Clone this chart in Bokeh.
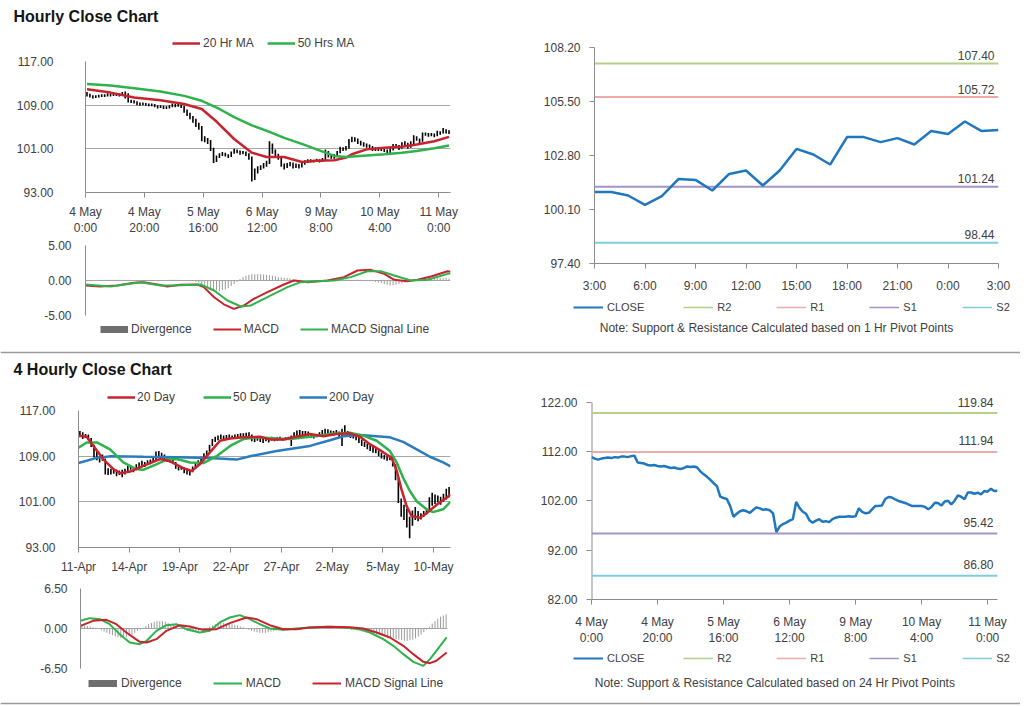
from bokeh.plotting import figure
from bokeh.models import Range1d, FixedTicker, NumeralTickFormatter, Legend, LegendItem, Label
from bokeh.layouts import row, column
from bokeh.embed import file_html
from bokeh.resources import INLINE
from bokeh.core.properties import value

# ---------------- DATA ----------------
# Hourly bars (4 May 0:00 .. 11 May 3:00), one value per hour
hourly_close = [
    110.9, 110.6, 110.4, 110.6, 110.7, 110.8, 110.7, 110.9, 110.8, 111.0,
    111.0, 110.9, 111.1, 111.2, 109.8, 109.7, 109.6, 109.3, 109.2, 109.3,
    109.1, 109.0, 109.1, 108.9, 108.7, 108.8, 108.6, 108.5, 108.7, 109.0,
    108.9, 109.0, 108.8, 108.0, 107.4, 106.9, 106.3, 105.6, 105.0, 102.9,
    102.6, 102.4, 101.0, 98.8, 99.4, 99.9, 100.1, 99.9, 99.6, 100.2,
    100.7, 100.5, 100.2, 100.3, 100.1, 99.5, 95.7, 96.8, 97.3, 97.6,
    98.0, 98.3, 101.8, 100.6, 99.8, 99.4, 98.1, 97.6, 98.0, 98.3,
    97.8, 97.9, 97.7, 98.3, 98.6, 98.8, 98.8, 98.8, 98.9, 98.8,
    98.9, 100.5, 99.8, 99.5, 99.6, 100.3, 101.0, 101.0, 101.1, 102.4,
    102.8, 102.7, 102.3, 102.0, 101.8, 101.6, 101.3, 101.0, 101.0, 100.97,
    100.97, 100.8, 100.33, 100.77, 101.63, 101.58, 101.05, 101.88, 102.05, 101.3,
    102.05, 103.13, 102.85, 102.35, 103.72, 103.72, 103.47, 103.67, 103.35, 104.02,
    103.88, 104.5, 104.02, 104.08]
hourly_low = [
    110.6, 110.4, 110.2, 110.3, 110.4, 110.5, 110.5, 110.6, 110.6, 110.7,
    110.7, 110.6, 110.8, 110.2, 109.5, 109.4, 109.3, 109.0, 108.9, 109.0,
    108.9, 108.8, 108.8, 108.6, 108.4, 108.5, 108.3, 108.3, 108.4, 108.6,
    108.6, 108.7, 108.5, 107.6, 107.0, 106.4, 105.8, 105.0, 104.5, 102.4,
    102.2, 101.9, 100.6, 98.4, 98.6, 99.3, 99.7, 99.6, 99.3, 99.5,
    100.1, 100.2, 99.9, 100.0, 99.7, 99.0, 95.0, 95.3, 96.5, 97.1,
    97.4, 97.7, 98.2, 100.1, 99.3, 99.0, 97.7, 97.2, 97.5, 97.8,
    97.4, 97.5, 97.4, 97.6, 98.1, 98.4, 98.5, 98.5, 98.6, 98.5,
    98.6, 98.8, 99.4, 99.2, 99.2, 99.5, 100.2, 100.6, 100.7, 101.0,
    102.2, 102.3, 101.9, 101.6, 101.4, 101.2, 100.9, 100.6, 100.6, 100.6,
    100.6, 100.4, 100.0, 100.2, 100.7, 101.2, 100.8, 101.0, 101.6, 101.0,
    101.2, 101.9, 102.5, 102.0, 102.3, 103.4, 103.2, 103.3, 103.1, 103.3,
    103.6, 103.8, 103.8, 103.7]
hourly_high = [
    111.4, 111.1, 110.8, 110.8, 110.9, 111.0, 111.0, 111.2, 111.1, 111.3,
    111.2, 111.2, 111.4, 111.5, 111.2, 110.0, 109.9, 109.7, 109.5, 109.5,
    109.4, 109.3, 109.3, 109.2, 109.0, 109.0, 108.9, 108.8, 109.0, 109.3,
    109.2, 109.3, 109.1, 108.9, 108.2, 107.6, 107.0, 106.5, 105.8, 105.2,
    103.3, 103.0, 102.6, 101.2, 99.8, 100.2, 100.4, 100.3, 100.0, 100.5,
    101.0, 100.9, 100.7, 100.6, 100.5, 100.2, 99.6, 97.4, 97.8, 98.0,
    98.4, 98.8, 102.4, 102.0, 100.9, 100.1, 99.5, 98.3, 98.4, 98.6,
    98.5, 98.3, 98.2, 98.6, 98.9, 99.1, 99.1, 99.0, 99.2, 99.1,
    99.3, 100.9, 100.6, 100.0, 100.0, 100.6, 101.4, 101.3, 101.5, 102.8,
    103.2, 103.1, 102.9, 102.5, 102.2, 102.0, 101.8, 101.5, 101.3, 101.3,
    101.3, 101.1, 100.9, 101.1, 101.9, 101.9, 101.7, 102.2, 102.4, 102.1,
    102.4, 103.5, 103.3, 102.9, 104.0, 104.0, 103.9, 103.9, 103.8, 104.3,
    104.2, 104.8, 104.6, 104.4]

ma20_h_x = [0.5, 8.5, 16.5, 25.5, 33.5, 39.5, 44.5, 50.5, 56.5, 61.5, 67.5, 73.5,
            78.5, 84.5, 88.5, 90.5, 95.5, 101.5, 107.5, 112.5, 118.5, 123.5]
ma20_h_y = [111.9, 111.3, 110.4, 109.9, 109.2, 108.3, 106.0, 102.8, 100.3, 99.5, 99.5, 98.6,
            98.8, 98.9, 99.4, 100.0, 100.9, 101.2, 101.4, 101.8, 102.4, 103.2]
ma50_h_x = [0.5, 8.5, 16.5, 25.5, 33.5, 39.5, 45.5, 50.5, 56.5, 62.5, 67.5, 73.5,
            78.5, 84.5, 88.5, 95.5, 101.5, 107.5, 112.5, 118.5, 123.5]
ma50_h_y = [112.9, 112.6, 112.1, 111.5, 110.7, 109.8, 108.3, 106.8, 105.3, 104.1, 103.0, 101.9,
            100.9, 99.7, 99.5, 99.8, 100.0, 100.3, 100.6, 101.1, 101.6]

macd_h_x = [0, 4.9, 10.8, 16.4, 19.8, 24.4, 27.8, 32.3, 38, 40.2, 43.7, 47, 50.4, 53.8, 57.3,
            61.8, 67.4, 70.8, 75.4, 82.2, 87.8, 92.4, 96.9, 101.5, 104.9, 109.4, 112.8, 117.4, 123, 124]
macd_h_y = [-0.71, -0.86, -0.7, -0.33, -0.24, -0.57, -0.86, -0.6, -0.57, -0.95, -2.4, -3.4, -4.05, -3.57, -2.6,
            -1.67, -0.57, 0.0, -0.24, 0.0, 0.48, 1.43, 1.52, 0.95, 0.1, -0.1, 0.1, 0.57, 1.33, 1.24]
signal_h_x = [0, 8.5, 18.7, 25.5, 30.0, 39.1, 43.7, 48.2, 52.8, 56.1, 61.8, 68.6, 73.1, 78.8,
              84.5, 90.1, 95.8, 100.3, 104.9, 110.5, 116.2, 123, 124]
signal_h_y = [-0.57, -0.86, -0.24, -0.71, -0.71, -0.57, -1.43, -2.86, -3.71, -3.57, -2.38, -0.95, -0.24, -0.1,
              0.0, 0.48, 1.33, 1.33, 0.71, 0.0, 0.1, 0.95, 1.0]
div_h = [
    -0.1, -0.1, -0.1, 0.0, 0.0, 0.1, 0.1, 0.1, 0.1, 0.1,
    0.1, 0.1, 0.1, 0.1, 0.1, 0.0, 0.0, -0.1, -0.1, -0.1,
    -0.1, -0.1, -0.1, -0.1, -0.1, 0.0, 0.0, 0.0, 0.1, 0.1,
    0.1, 0.1, 0.0, 0.0, 0.0, 0.0, -0.1, -0.2, -0.3, -0.5,
    -0.7, -0.9, -1.1, -1.3, -1.4, -1.5, -1.4, -1.3, -1.1, -0.8,
    -0.5, -0.2, 0.2, 0.5, 0.7, 0.8, 0.9, 0.9, 0.9, 0.9,
    0.85, 0.8, 0.75, 0.7, 0.6, 0.5, 0.45, 0.4, 0.35, 0.3,
    0.2, 0.15, 0.1, 0.0, -0.1, -0.15, -0.2, -0.2, -0.15, -0.1,
    -0.1, 0.0, 0.1, 0.1, 0.2, 0.2, 0.2, 0.2, 0.15, 0.15,
    0.1, 0.1, 0.1, 0.1, 0.0, 0.0, -0.1, -0.1, -0.2, -0.3,
    -0.4, -0.5, -0.6, -0.7, -0.7, -0.6, -0.5, -0.4, -0.3, -0.2,
    -0.1, 0.0, 0.1, 0.2, 0.2, 0.3, 0.3, 0.3, 0.4, 0.4,
    0.4, 0.4, 0.4, 0.3]

hour_tick_pos = [0, 20, 40, 60, 80, 100, 120]
hour_tick_labels = ["4 May\n0:00", "4 May\n20:00", "5 May\n16:00", "6 May\n12:00",
                    "9 May\n8:00", "10 May\n4:00", "11 May\n0:00"]

# last 25 hours (10 May 3:00 .. 11 May 3:00) for the 1 Hr pivot chart
tr_tick_pos = [0, 3, 6, 9, 12, 15, 18, 21, 24]
tr_tick_labels = ["3:00", "6:00", "9:00", "12:00", "15:00", "18:00", "21:00", "0:00", "3:00"]
tr_yticks = [97.4, 100.1, 102.8, 105.5, 108.2]
tr_levels = [107.40, 105.72, 101.24, 98.44]
br_yticks = [82, 92, 102, 112, 122]
br_levels = [119.84, 111.94, 95.42, 86.80]
level_names = ["R2", "R1", "S1", "S2"]

# 4 hourly bars (11 Apr .. 10 May)
h4_low = [
    112.3, 112.0, 112.2, 111.8, 110.6, 108.8, 108.3, 107.9, 108.2, 105.8,
    105.7, 105.8, 105.9, 105.5, 105.7, 105.3, 105.8, 106.4, 106.6, 106.2,
    106.9, 107.0, 107.3, 107.1, 107.5, 107.6, 107.8, 108.3, 108.7, 108.4,
    108.5, 108.0, 107.9, 107.7, 106.8, 106.5, 106.6, 106.0, 105.8, 105.6,
    106.2, 107.0, 107.3, 108.0, 108.4, 108.9, 109.8, 110.8, 111.5, 111.8,
    112.0, 111.9, 112.0, 112.1, 112.0, 112.1, 112.2, 112.3, 112.4, 112.4,
    112.5, 111.6, 111.5, 111.7, 111.5, 111.3, 111.6, 111.4, 111.8, 111.6,
    111.7, 111.8, 111.7, 111.8, 111.9, 110.8, 112.2, 112.5, 112.7, 112.4,
    112.6, 112.5, 112.2, 112.1, 112.3, 112.4, 112.6, 112.8, 112.9, 112.8,
    112.6, 112.7, 112.3, 110.8, 112.8, 112.5, 112.2, 112.1, 111.8, 111.3,
    110.8, 110.6, 110.2, 109.9, 109.6, 109.5, 109.0, 108.6, 108.4, 108.2,
    108.3, 107.2, 104.8, 100.8, 98.4, 97.8, 96.5, 94.6, 96.8, 97.8,
    97.6, 97.9, 98.4, 98.8, 99.2, 100.3, 100.6, 100.9, 100.5, 101.0,
    101.4, 101.8]
h4_high = [
    113.4, 113.2, 112.9, 112.8, 112.2, 111.0, 109.8, 109.0, 109.3, 108.6,
    106.9, 106.8, 106.7, 106.6, 106.5, 106.6, 106.8, 107.3, 107.3, 107.0,
    107.6, 107.9, 108.2, 108.0, 108.3, 108.4, 108.9, 109.8, 109.9, 109.6,
    109.3, 109.0, 108.8, 108.5, 108.0, 107.3, 107.2, 107.0, 106.8, 106.4,
    107.2, 107.8, 108.3, 108.9, 109.5, 110.0, 111.0, 112.0, 112.4, 112.6,
    112.8, 112.6, 112.7, 112.8, 112.6, 112.8, 112.9, 113.0, 113.0, 113.1,
    113.2, 112.8, 112.3, 112.4, 112.2, 112.3, 112.2, 112.3, 112.4, 112.2,
    112.3, 112.4, 112.2, 112.3, 112.4, 112.6, 113.2, 113.5, 113.6, 113.4,
    113.4, 113.3, 112.9, 112.8, 112.9, 113.2, 113.6, 113.8, 113.7, 113.5,
    113.4, 113.6, 113.3, 113.8, 114.4, 113.4, 113.1, 112.9, 112.6, 112.3,
    111.9, 111.5, 111.2, 110.9, 110.6, 110.3, 110.0, 109.6, 109.2, 109.0,
    109.1, 108.8, 107.6, 105.2, 101.6, 100.5, 99.8, 98.4, 99.5, 100.1,
    99.4, 99.0, 99.4, 99.7, 101.8, 102.6, 102.3, 102.1, 101.9, 102.4,
    103.3, 103.6]

ma20_4h_x = [0, 2.9, 5.3, 8.9, 12.5, 14.8, 18.3, 23.0, 29.0, 32.5, 37.2, 40.2, 43.1, 46.7, 50.2,
             53.8, 58.5, 64.4, 68.0, 72.7, 76.2, 82.1, 86.9, 91.5, 96.3, 99.9, 103.4, 108.1, 111.1,
             112.9, 114.6, 116.4, 118.2, 121.2, 123.5, 127.1, 130.6, 132]
ma20_4h_y = [112.6, 112.4, 110.8, 108.4, 106.7, 106.0, 106.3, 107.3, 108.5, 108.1, 106.9, 106.4, 107.6, 109.7, 111.7,
             112.1, 112.3, 112.4, 111.9, 111.9, 112.3, 112.9, 112.5, 112.9, 113.0, 112.4, 111.1, 109.7, 108.7,
             106.5, 103.2, 100.3, 98.5, 98.2, 99.0, 100.5, 101.7, 102.3]
ma50_4h_x = [0, 2.9, 6.5, 11.2, 15.9, 20.7, 23.0, 27.8, 31.3, 34.9, 39.6, 44.3, 49.0, 53.8, 58.5,
             63.2, 70.3, 75.1, 82.1, 89.2, 96.3, 101.1, 105.8, 110.5, 112.9, 115.2, 117.6, 120.0,
             123.5, 125.8, 129.4, 132]
ma50_4h_y = [110.5, 111.4, 111.4, 110.2, 107.9, 106.7, 106.6, 107.6, 108.4, 108.5, 107.9, 107.8, 109.0, 110.8, 112.0,
             112.3, 112.1, 112.0, 112.4, 112.9, 113.1, 112.6, 111.7, 109.9, 107.9, 105.2, 102.9, 101.1,
             99.7, 99.2, 99.7, 101.0]
ma200_4h_x = [0, 6.5, 11.5, 23.0, 34.9, 46.7, 56.1, 60.9, 70.3, 82.1, 89.2, 94.0, 99.9, 110.5,
              115.2, 120.0, 124.7, 129.4, 132]
ma200_4h_y = [107.8, 108.7, 109.0, 108.9, 108.8, 108.7, 108.4, 109.0, 109.9, 110.8, 111.8, 112.5, 112.7, 112.3,
              111.5, 110.2, 108.9, 107.9, 107.2]

macd_4h_x = [0, 3.4, 7, 10.5, 14.1, 17.7, 21.3, 23.8, 27.3, 30.9, 34.5, 38.1, 42.9, 46.5, 50.1,
             53.7, 57.3, 60.9, 64.5, 68.1, 72.9, 77.7, 82.5, 88.5, 94.5, 100.5, 104.1, 108.9, 112.5,
             116.1, 119.7, 123.3, 125.7, 128, 131.7]
macd_4h_y = [1.25, 1.68, 1.52, 0.7, -0.92, -2.28, -2.55, -2.0, -0.38, 0.54, 0.7, -0.11, -0.65, -0.38, 0.98,
             1.79, 2.17, 1.52, 0.7, 0.0, -0.22, 0.0, 0.16, 0.27, 0.22, -0.11, -0.65, -1.73, -2.82,
             -4.17, -5.42, -6.07, -4.98, -3.63, -1.46]
signal_4h_x = [0, 4.5, 9.3, 12.9, 16.5, 21.3, 23.8, 27.3, 30.9, 35.7, 39.3, 44.1, 48.9, 53.7, 59.7,
               63.3, 68.1, 72.9, 77.7, 82.5, 89.7, 96.9, 101.7, 106.5, 111.3, 116.1, 119.7, 123.3,
               125.7, 128, 131.7]
signal_4h_y = [0.43, 1.25, 1.41, 0.7, -0.65, -2.17, -2.28, -1.73, -0.38, 0.54, 0.33, -0.22, -0.11, 0.87, 1.79,
               1.52, 0.54, -0.11, -0.11, 0.16, 0.27, 0.22, 0.0, -0.65, -1.46, -2.82, -4.17, -5.42,
               -5.63, -5.25, -3.9]
div_4h = [
    0.6, 0.5, 0.4, 0.3, 0.2, 0.1,
    -0.1, -0.3, -0.5, -0.7, -0.9, -1.1, -1.3, -1.4, -1.5, -1.5, -1.4, -1.2, -1.0, -0.7, -0.4, -0.2,
    0.1, 0.4, 0.7, 0.9, 1.1, 1.2, 1.2, 1.2, 1.1, 0.9, 0.7, 0.5, 0.3, 0.1, -0.1, -0.2,
    -0.4, -0.5, -0.6, -0.5, -0.4, -0.3, -0.1, 0.1, 0.3,
    0.5, 0.7, 0.8, 0.9, 0.9, 0.8, 0.8, 0.7, 0.6, 0.5, 0.3, 0.2, 0.0, -0.2,
    -0.4, -0.5, -0.6, -0.7, -0.7, -0.7, -0.6, -0.5, -0.4, -0.3, -0.2, -0.1, -0.1, 0.0, 0.0,
    0.1, 0.1, 0.1, 0.1, 0.1, 0.0, 0.0, 0.1, 0.1, 0.1, 0.0, 0.0, 0.0, 0.1, 0.1, 0.0, 0.0,
    -0.1, -0.1, -0.1, -0.1, -0.2, -0.2, -0.3,
    -0.4, -0.5, -0.6, -0.7, -0.8, -0.9, -1.0, -1.1, -1.2, -1.3, -1.4, -1.5, -1.6, -1.7, -1.8,
    -1.9, -2.0, -2.0, -1.9, -1.8, -1.6, -1.3, -1.0, -0.6, -0.2,
    0.3, 0.8, 1.2, 1.6, 1.9, 2.1, 2.3]

h4_tick_pos = [0, 18, 36, 54, 72, 90, 108, 126]
h4_tick_labels = ["11-Apr", "14-Apr", "19-Apr", "22-Apr", "27-Apr", "2-May", "5-May", "10-May"]

# ---------------- STYLE ----------------
FONT = "Liberation Sans"
TXT = "#404040"
GRID = "#a6a6a6"
AXIS = "#8c8c8c"
RED = "#c8232c"
GREEN = "#2eb24b"
BLUE = "#2b7bbf"
CLOSE_BLUE = "#1f77c0"
BAR_GRAY = "#9a9a9a"
SWATCH_GRAY = "#6e6e6e"
LEVEL_COLORS = ["#b3cf8a", "#eeaaaa", "#a593c8", "#7fcbe0"]
W = 1020


def no_align(p):
    try:
        p.frame_align = False
    except Exception:
        pass


def make_fig(box, frame, xr, yr, x_axis=True, y_axis=True):
    x0, y0, w, h = box
    fl, ft, fr, fb = frame
    p = figure(width=w, height=h, x_range=Range1d(*xr), y_range=Range1d(*yr),
               output_backend="svg", toolbar_location=None,
               x_axis_location="below" if x_axis else None,
               y_axis_location="left" if y_axis else None,
               min_border_left=fl - x0, min_border_top=ft - y0,
               min_border_right=x0 + w - fr, min_border_bottom=y0 + h - fb)
    no_align(p)
    p.outline_line_color = None
    p.background_fill_color = "white"
    p.border_fill_color = "white"
    p.xgrid.visible = False
    p.ygrid.visible = False
    for ax in p.axis:
        ax.axis_line_color = AXIS
        ax.major_tick_line_color = AXIS
        ax.minor_tick_line_color = None
        ax.major_tick_in = 0
        ax.major_label_text_font = FONT
        ax.major_label_text_font_size = "12px"
        ax.major_label_text_color = TXT
    return p


def blank(box):
    # a plain strip whose data coordinates are page pixels
    x0, y0, w, h = box
    p = figure(width=w, height=h, x_range=Range1d(x0, x0 + w), y_range=Range1d(y0 + h, y0),
               output_backend="svg", toolbar_location=None,
               x_axis_location=None, y_axis_location=None, min_border=0,
               min_border_left=0, min_border_right=0, min_border_top=0, min_border_bottom=0)
    no_align(p)
    p.outline_line_color = None
    p.background_fill_color = "white"
    p.border_fill_color = "white"
    p.xgrid.visible = False
    p.ygrid.visible = False
    return p


def header(box, title=None, title_cy=None, line_y=None):
    x0, y0, w, h = box
    p = blank(box)
    if line_y is not None:
        p.line(x=[x0, x0 + w], y=[line_y, line_y], line_color="#9a9a9a", line_width=1.5)
    if title is not None:
        p.text(x=[13], y=[title_cy], text=[title], text_font=value(FONT),
               text_font_style="bold", text_font_size="16px", text_baseline="middle",
               text_color="#151515")
    return p


def legend_strip(box, entries, left, cy, glyph_w=28, standoff=3, spacing=13, size="12px",
                 note=None, note_cx=None, note_cy=None, lh=14):
    x0, y0, w, h = box
    p = blank(box)
    # swatch renderers: drawn outside the strip's visible range, used only by the legend
    rs = [(lab, p.line(x=[x0 - 50, x0 - 40], y=[y0, y0], line_color=c, line_width=lw))
          for lab, c, lw in entries]
    lg = Legend(items=[LegendItem(label=l, renderers=[r]) for l, r in rs],
                location=(left - x0, y0 + h - cy - lh / 2), orientation="horizontal",
                glyph_width=glyph_w, glyph_height=lh, label_height=lh, label_standoff=standoff,
                spacing=spacing, padding=0, margin=0, background_fill_alpha=0,
                border_line_color=None, label_text_font=FONT, label_text_font_size=size,
                label_text_color=TXT)
    p.add_layout(lg, "center")
    if note is not None:
        p.text(x=[note_cx], y=[note_cy], text=[note], text_font=value(FONT),
               text_font_size="12px", text_align="center", text_baseline="middle",
               text_color=TXT)
    return p


# ---------------- HOURLY PRICE (top-left) ----------------
tl_leg = legend_strip((0, 30, 500, 23), [("20 Hr MA", RED, 2.5), ("50 Hrs MA", GREEN, 2.5)],
                      left=172, cy=43, spacing=13)
tl = make_fig((0, 53, 500, 185), (85, 61, 450, 196), (0, 124), (93, 117))
tl.yaxis.ticker = FixedTicker(ticks=[93, 101, 109, 117])
tl.yaxis.formatter = NumeralTickFormatter(format="0.00")
tl.yaxis.major_tick_out = 0
tl.yaxis.major_label_standoff = 32
tl.ygrid.visible = True
tl.ygrid.grid_line_color = GRID
tl.xaxis.ticker = FixedTicker(ticks=hour_tick_pos)
tl.xaxis.major_label_overrides = dict(zip(hour_tick_pos, hour_tick_labels))
tl.xaxis.major_tick_out = 5
tl.xaxis.major_label_standoff = 7
hx = [i + 0.5 for i in range(len(hourly_close))]
tl.segment(x0=hx, y0=hourly_low, x1=hx, y1=hourly_high, line_color="black", line_width=1.6)
tl.line(ma20_h_x, ma20_h_y, line_color=RED, line_width=2.5)
tl.line(ma50_h_x, ma50_h_y, line_color=GREEN, line_width=2.5)

# ---------------- HOURLY MACD ----------------
tlm = make_fig((0, 238, 500, 84), (85, 245, 450, 315), (0, 124), (-5, 5), x_axis=False)
tlm.yaxis.ticker = FixedTicker(ticks=[-5, 0, 5])
tlm.yaxis.formatter = NumeralTickFormatter(format="0.00")
tlm.yaxis.major_tick_out = 0
tlm.yaxis.major_label_standoff = 14
tlm.ygrid.visible = True
tlm.ygrid.grid_line_color = GRID
tlm.segment(x0=hx, y0=[0] * len(div_h), x1=hx, y1=div_h, line_color=BAR_GRAY, line_width=1)
tlm.line(macd_h_x, macd_h_y, line_color=RED, line_width=2)
tlm.line(signal_h_x, signal_h_y, line_color=GREEN, line_width=2)
tlm_leg = legend_strip((0, 322, 500, 22),
                       [("Divergence", SWATCH_GRAY, 7), ("MACD", RED, 2), ("MACD Signal Line", GREEN, 2)],
                       left=100, cy=329, spacing=21)

# ---------------- 1 HR PIVOT (top-right) ----------------
tr = make_fig((500, 30, 520, 270), (594, 47, 998, 263), (0, 24), (97.4, 108.2))
tr.yaxis.ticker = FixedTicker(ticks=tr_yticks)
tr.yaxis.formatter = NumeralTickFormatter(format="0.00")
tr.yaxis.major_tick_out = 5
tr.yaxis.major_label_standoff = 9
tr.xaxis.ticker = FixedTicker(ticks=tr_tick_pos)
tr.xaxis.major_label_overrides = dict(zip(tr_tick_pos, tr_tick_labels))
tr.xaxis.major_tick_out = 5
tr.xaxis.major_label_standoff = 10
tr_close = hourly_close[99:124]
for lv, c in zip(tr_levels, LEVEL_COLORS):
    tr.line(x=[0, 24], y=[lv, lv], line_color=c, line_width=2)
    tr.add_layout(Label(x=24, y=lv, text="%.2f" % lv, x_offset=-4, y_offset=8,
                        text_align="right", text_baseline="middle", text_font=FONT,
                        text_font_size="12px", text_color=TXT))
tr.line(x=list(range(len(tr_close))), y=tr_close, line_color=CLOSE_BLUE, line_width=2.5)
tr_leg = legend_strip((500, 300, 520, 44),
                      [("CLOSE", CLOSE_BLUE, 2)] + [(n, c, 1.5) for n, c in zip(level_names, LEVEL_COLORS)],
                      left=573, cy=307, glyph_w=30, standoff=4, spacing=39, size="11px",
                      note="Note: Support & Resistance Calculated based on 1 Hr Pivot Points",
                      note_cx=776, note_cy=327)

# ---------------- 4 HOURLY PRICE (bottom-left) ----------------
bl_leg = legend_strip((0, 384, 500, 20), [("20 Day", RED, 2.5), ("50 Day", GREEN, 2.5), ("200 Day", BLUE, 2.5)],
                      left=107, cy=397, standoff=2, spacing=28)
bl = make_fig((0, 404, 500, 174), (78, 410, 450, 547), (0, 132), (93, 117))
bl.yaxis.ticker = FixedTicker(ticks=[93, 101, 109, 117])
bl.yaxis.formatter = NumeralTickFormatter(format="0.00")
bl.yaxis.major_tick_out = 0
bl.yaxis.major_label_standoff = 23
bl.ygrid.visible = True
bl.ygrid.grid_line_color = GRID
bl.xaxis.ticker = FixedTicker(ticks=h4_tick_pos)
bl.xaxis.major_label_overrides = dict(zip(h4_tick_pos, h4_tick_labels))
bl.xaxis.major_tick_out = 5
bl.xaxis.major_label_standoff = 7
qx = [i + 0.5 for i in range(len(h4_low))]
bl.segment(x0=qx, y0=h4_low, x1=qx, y1=h4_high, line_color="black", line_width=1.6)
bl.line(ma200_4h_x, ma200_4h_y, line_color=BLUE, line_width=2.5)
bl.line(ma50_4h_x, ma50_4h_y, line_color=GREEN, line_width=2.5)
bl.line(ma20_4h_x, ma20_4h_y, line_color=RED, line_width=2.5)

# ---------------- 4 HOURLY MACD ----------------
blm = make_fig((0, 578, 500, 98), (80, 588, 447, 668), (0, 132), (-6.5, 6.5), x_axis=False)
blm.yaxis.ticker = FixedTicker(ticks=[-6.5, 0, 6.5])
blm.yaxis.formatter = NumeralTickFormatter(format="0.00")
blm.yaxis.major_tick_out = 0
blm.yaxis.major_label_standoff = 13
blm.ygrid.visible = True
blm.ygrid.grid_line_color = GRID
blm.segment(x0=qx, y0=[0] * len(div_4h), x1=qx, y1=div_4h, line_color=BAR_GRAY, line_width=1)
blm.line(macd_4h_x, macd_4h_y, line_color=GREEN, line_width=2)
blm.line(signal_4h_x, signal_4h_y, line_color=RED, line_width=2)
blm_leg = legend_strip((0, 676, 500, 16),
                       [("Divergence", SWATCH_GRAY, 7), ("MACD", GREEN, 2), ("MACD Signal Line", RED, 2)],
                       left=88, cy=683, glyph_w=29, standoff=4, spacing=31)

# ---------------- 24 HR PIVOT (bottom-right) ----------------
br = make_fig((500, 384, 520, 264), (591, 390, 997, 600), (0, 123), (82, 124.42))
br.yaxis.ticker = FixedTicker(ticks=br_yticks)
br.yaxis.formatter = NumeralTickFormatter(format="0.00")
br.yaxis.major_tick_out = 5
br.yaxis.major_label_standoff = 9
br.yaxis.axis_line_color = None
br.xaxis.ticker = FixedTicker(ticks=hour_tick_pos)
br.xaxis.major_label_overrides = dict(zip(hour_tick_pos, hour_tick_labels))
br.xaxis.major_tick_out = 5
br.xaxis.major_label_standoff = 10
br.segment(x0=[0], y0=[min(br_yticks)], x1=[0], y1=[max(br_yticks)], line_color=AXIS, line_width=2)
for lv, c in zip(br_levels, LEVEL_COLORS):
    br.line(x=[0, 123], y=[lv, lv], line_color=c, line_width=2)
    br.add_layout(Label(x=123, y=lv, text="%.2f" % lv, x_offset=-4, y_offset=11,
                        text_align="right", text_baseline="middle", text_font=FONT,
                        text_font_size="12px", text_color=TXT))
br.line(x=list(range(len(hourly_close))), y=hourly_close, line_color=CLOSE_BLUE, line_width=2.5)
br_leg = legend_strip((500, 648, 520, 44),
                      [("CLOSE", CLOSE_BLUE, 2)] + [(n, c, 1.5) for n, c in zip(level_names, LEVEL_COLORS)],
                      left=573, cy=658, glyph_w=30, standoff=4, spacing=39, size="11px",
                      note="Note:  Support & Resistance Calculated based on 24 Hr Pivot Points",
                      note_cx=776, note_cy=682)

# ---------------- HEADERS ----------------
hdr1 = header((0, 0, W, 30), "Hourly Close Chart", 16)
hdr2 = header((0, 344, W, 40), "4 Hourly Close Chart", 369, line_y=352)
footer = header((0, 692, W, 13), None, None, line_y=703)

layout = column(hdr1,
                row(column(tl_leg, tl, tlm, tlm_leg), column(tr, tr_leg)),
                hdr2,
                row(column(bl_leg, bl, blm, blm_leg), column(br, br_leg)),
                footer)

open("out.html", "w").write(file_html(layout, INLINE))
